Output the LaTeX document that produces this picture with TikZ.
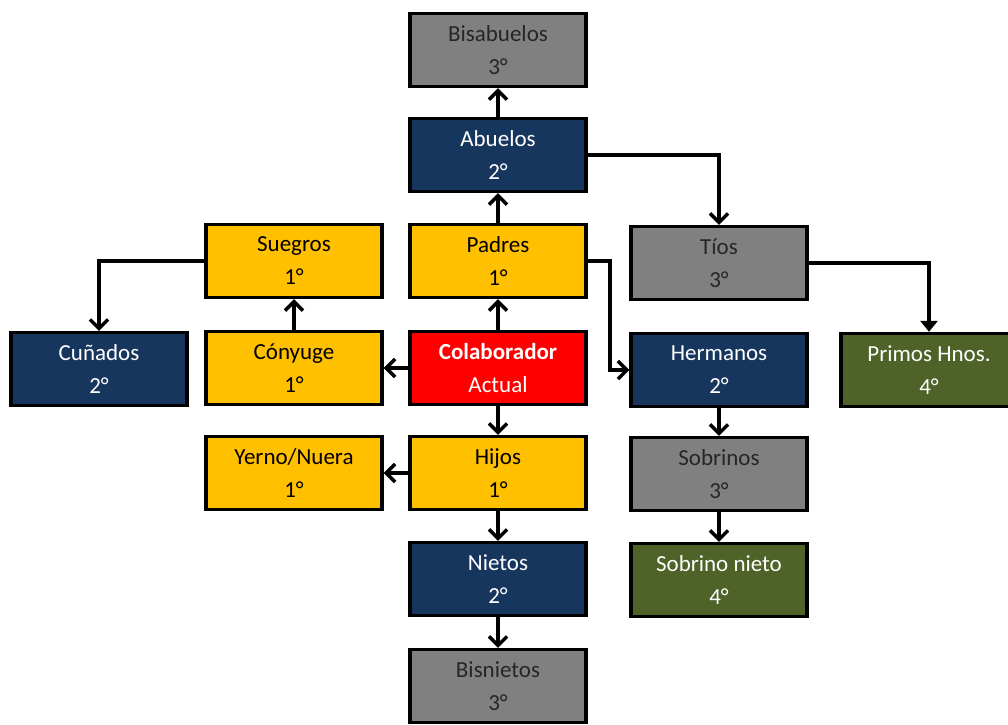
\documentclass[tikz,border=0pt]{standalone}
\usepackage{fontspec}
\setmainfont{Carlito}
\usetikzlibrary{arrows.meta}
\definecolor{cgray}{HTML}{808080}
\definecolor{cnavy}{HTML}{17365D}
\definecolor{cyel}{HTML}{FFC000}
\definecolor{cred}{HTML}{FF0000}
\definecolor{cgreen}{HTML}{4F6228}
\definecolor{ctext}{HTML}{262626}
\tikzset{
  box/.style={draw=black, line width=3.4pt, minimum width=176pt, minimum height=73pt,
    inner sep=0pt, align=center, font=\fontsize{23}{33}\selectfont},
  graybox/.style={box, fill=cgray, text=ctext},
  navybox/.style={box, fill=cnavy, text=white},
  yelbox/.style={box, fill=cyel, text=black},
  redbox/.style={box, fill=cred, text=white},
  greenbox/.style={box, fill=cgreen, text=white},
  arr/.style={line width=3.4pt, -{Straight Barb[length=9pt,width=18pt,line width=3.4pt]}},
  tri/.style={line width=3.4pt, -{Triangle[length=11pt,width=17pt]}}
}
\begin{document}
\begin{tikzpicture}[x=1pt,y=-1pt]
\useasboundingbox (0,0) rectangle (1008,724);
\clip (0,0) rectangle (1008,724);
\node[graybox] (bisabuelos) at (498,50) {Bisabuelos\\3°};
\node[navybox] (abuelos) at (498,155) {Abuelos\\2°};
\node[yelbox] (padres) at (498,261) {Padres\\1°};
\node[redbox] (colab) at (498,368) {\textbf{Colaborador}\\Actual};
\node[yelbox] (hijos) at (498,473) {Hijos\\1°};
\node[navybox] (nietos) at (498,579) {Nietos\\2°};
\node[graybox] (bisnietos) at (498,686) {Bisnietos\\3°};
\node[yelbox] (suegros) at (294,261) {Suegros\\1°};
\node[yelbox] (conyuge) at (294,368) {Cónyuge\\1°};
\node[navybox] (cunados) at (99,369) {Cuñados\\2°};
\node[yelbox] (yerno) at (294,473) {Yerno/Nuera\\1°};
\node[graybox] (tios) at (719,263) {Tíos\\3°};
\node[navybox] (hermanos) at (719,370) {Hermanos\\2°};
\node[graybox] (sobrinos) at (719,474) {Sobrinos\\3°};
\node[greenbox] (sobnieto) at (719,580) {Sobrino nieto\\4°};
\node[greenbox] (primos) at (929,370) {Primos Hnos.\\4°};
\coordinate (pbend) at (610,261);
\draw[arr] (abuelos.north) -- (bisabuelos.south);
\draw[arr] (padres.north) -- (abuelos.south);
\draw[arr] (colab.north) -- (padres.south);
\draw[arr] (colab.south) -- (hijos.north);
\draw[arr] (hijos.south) -- (nietos.north);
\draw[arr] (nietos.south) -- (bisnietos.north);
\draw[arr] (colab.west) -- (conyuge.east);
\draw[arr] (hijos.west) -- (yerno.east);
\draw[arr] (conyuge.north) -- (suegros.south);
\draw[arr] (suegros.west) -| (cunados.north);
\draw[arr] (abuelos.east) -| (tios.north);
\draw[arr] (padres.east) -- (pbend) |- (hermanos.west);
\draw[tri] (tios.east) -| (primos.north);
\draw[arr] (hermanos.south) -- (sobrinos.north);
\draw[arr] (sobrinos.south) -- (sobnieto.north);
\end{tikzpicture}
\end{document}
